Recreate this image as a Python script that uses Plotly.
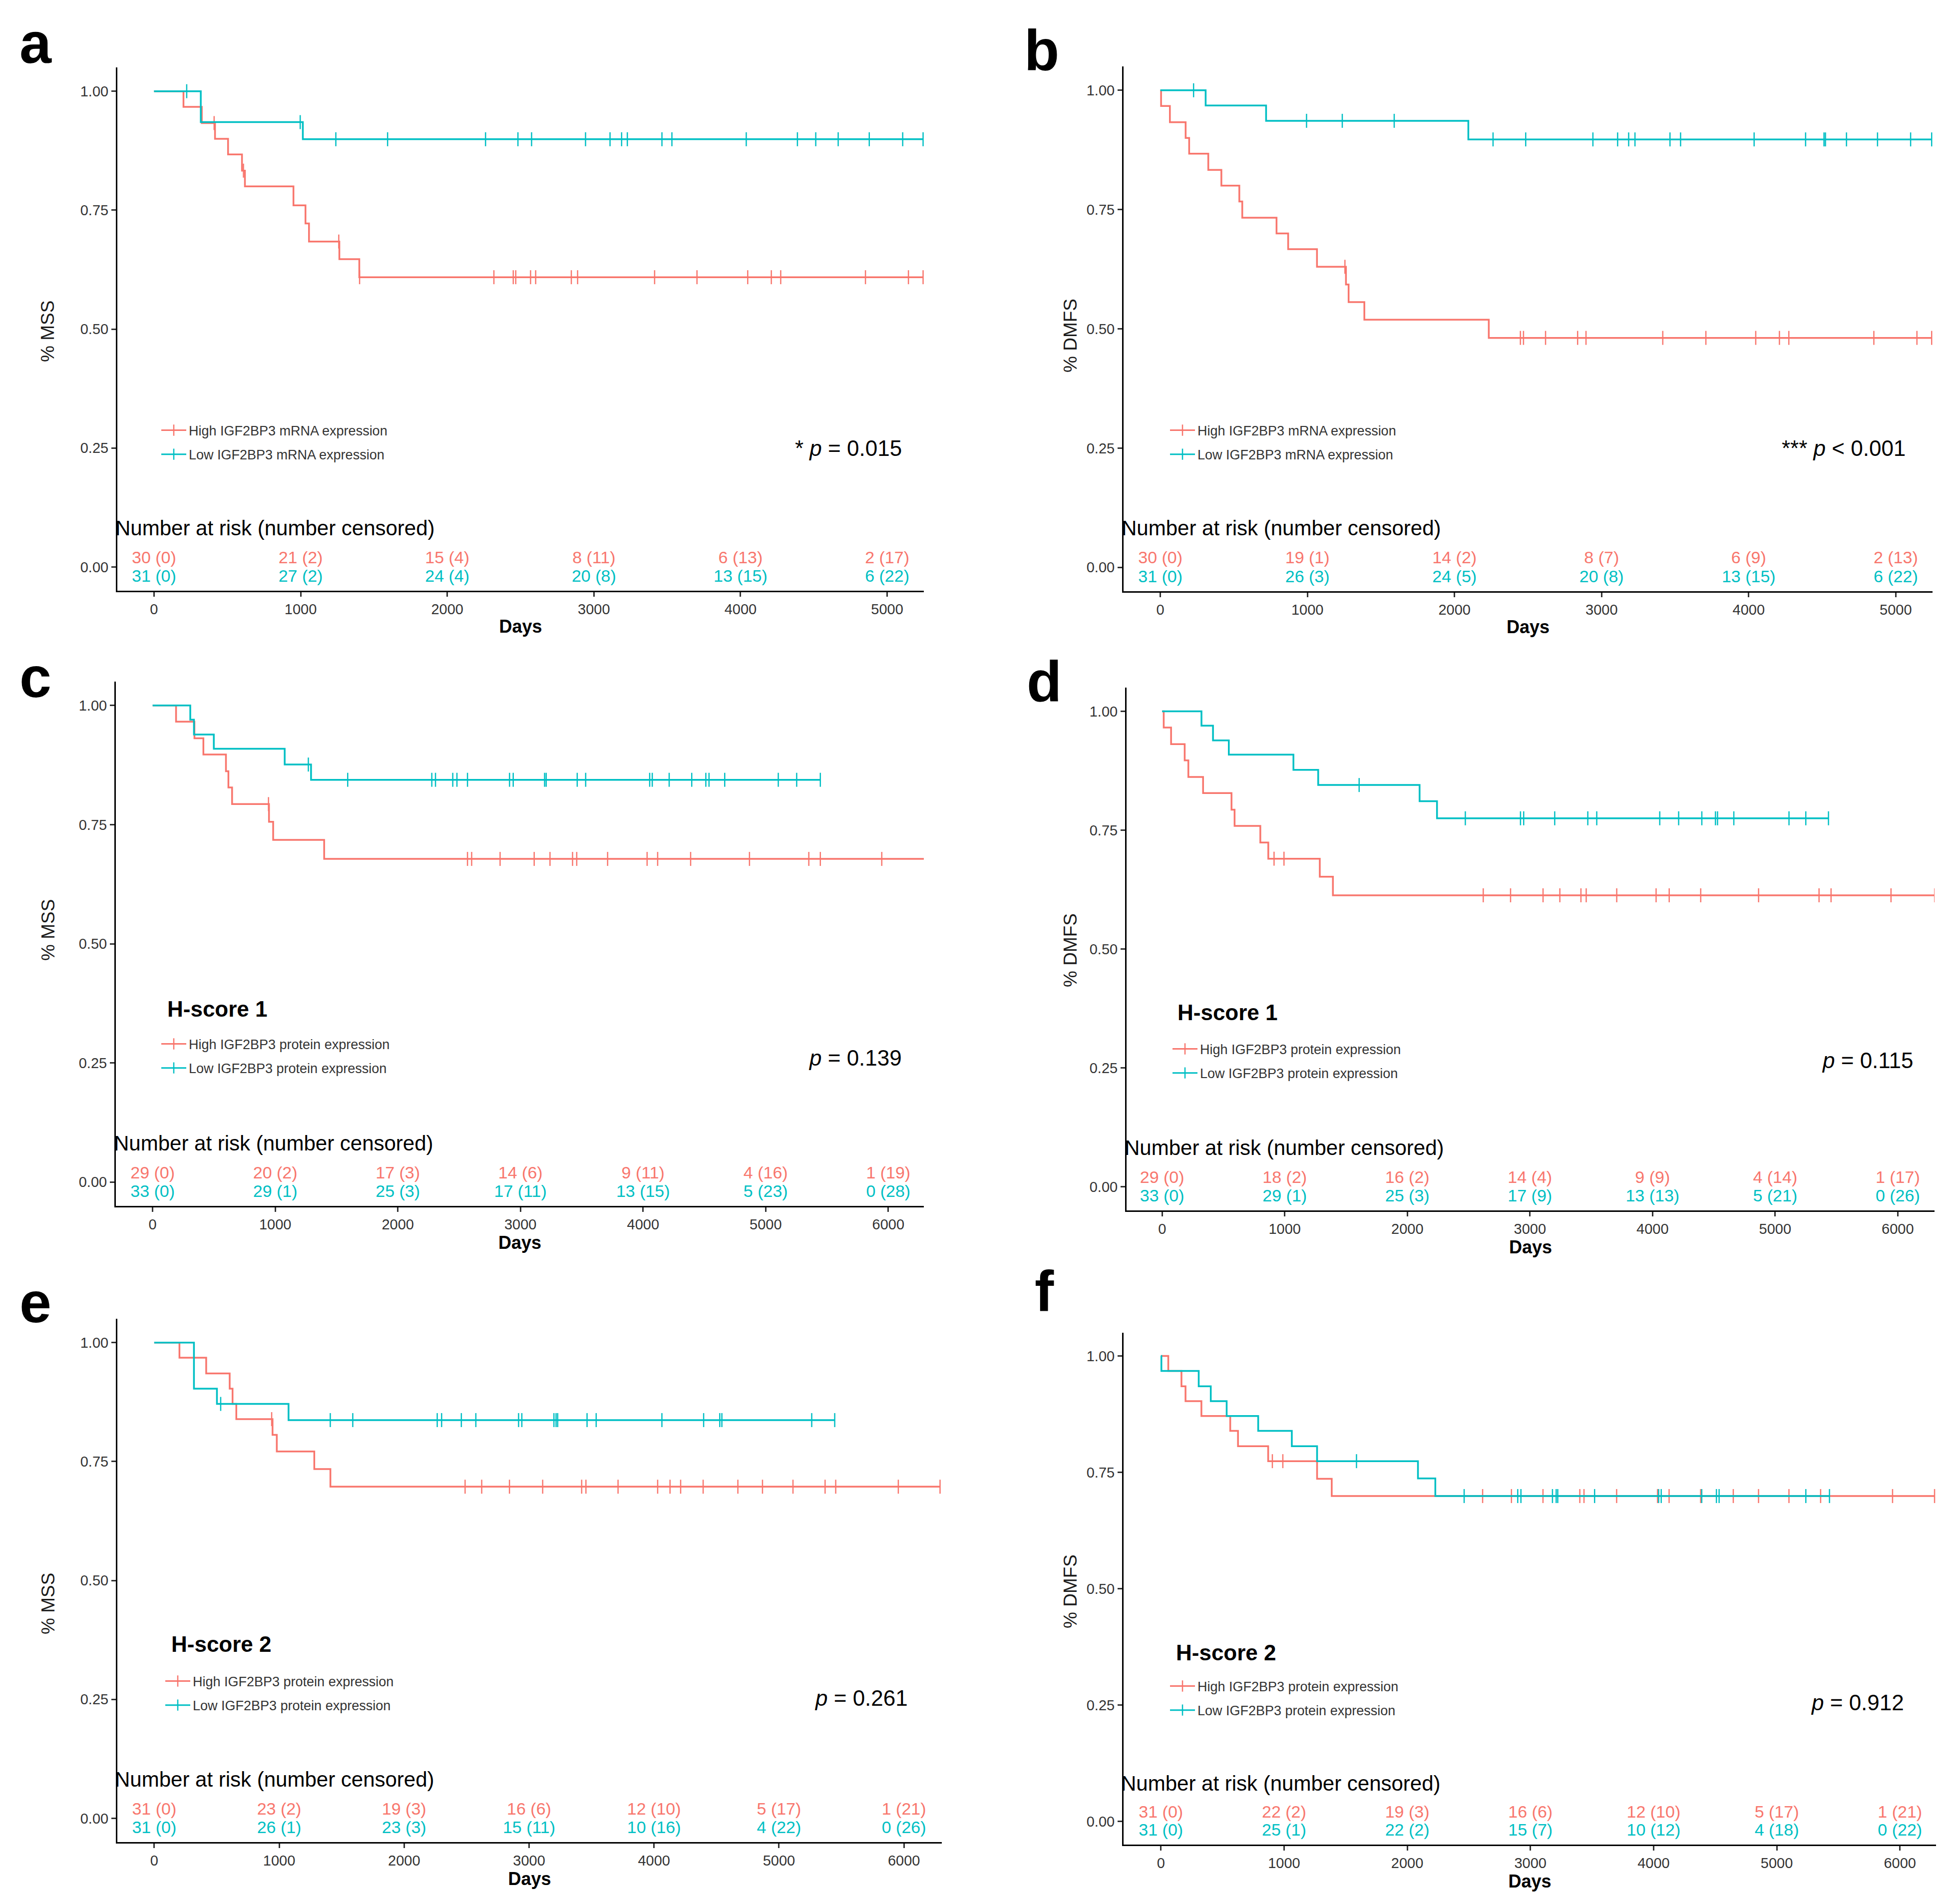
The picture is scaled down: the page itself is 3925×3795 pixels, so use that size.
import numpy as np
import plotly.graph_objects as go

RED = '#F8766D'
TEAL = '#00BFC4'
FONT = 'Liberation Sans, Arial, sans-serif'

# ---------------- data ----------------
# step points (time in days, survival after the step), censor times

# a : MSS, mRNA
a_high_t = [0, 201, 326, 416, 505, 600, 620, 951, 1033, 1057, 1264, 1400, 5245]
a_high_s = [1.0, 0.967, 0.933, 0.900, 0.867, 0.833, 0.800, 0.760, 0.722, 0.684, 0.647, 0.609, 0.609]
a_high_cens = [410, 610, 1260, 1402, 2318, 2450, 2467, 2568, 2603, 2846, 2889, 3414, 3703,
               4049, 4210, 4274, 4852, 5145, 5245]
a_low_t = [0, 319, 1015, 5245]
a_low_s = [1.0, 0.935, 0.899, 0.899]
a_low_cens = [223, 997, 1240, 1593, 2261, 2482, 2575, 2943, 3110, 3189, 3228, 3464, 3532,
              4039, 4388, 4513, 4666, 4878, 5106, 5245]

# b : DMFS, mRNA
b_high_t = [0, 5, 65, 172, 196, 326, 415, 537, 557, 790, 869, 1065, 1262, 1280, 1387, 2233, 5244]
b_high_s = [1.0, 0.967, 0.933, 0.900, 0.867, 0.833, 0.800, 0.767, 0.733, 0.700, 0.667,
            0.630, 0.593, 0.556, 0.519, 0.481, 0.481]
b_high_cens = [1255, 2448, 2469, 2619, 2837, 2894, 3416, 3709, 4048, 4209, 4273, 4851, 5144, 5244]
b_low_t = [0, 308, 719, 2094, 5244]
b_low_s = [1.0, 0.968, 0.936, 0.897, 0.897]
b_low_cens = [226, 994, 1237, 1590, 2262, 2484, 2941, 3109, 3184, 3227, 3465, 3537, 4037,
              4387, 4512, 4522, 4665, 4876, 5101, 5244]

# c : MSS, H-score 1
c_high_t = [0, 191, 341, 414, 598, 618, 648, 949, 983, 1399, 6302]
c_high_s = [1.0, 0.966, 0.931, 0.897, 0.862, 0.828, 0.793, 0.756, 0.718, 0.678, 0.678]
c_high_cens = [945, 2568, 2602, 2834, 3112, 3241, 3425, 3459, 3711, 4033, 4119, 4388, 4868,
               5352, 5446, 5947, 6302]
c_low_t = [0, 307, 337, 499, 1077, 1292, 5446]
c_low_s = [1.0, 0.970, 0.939, 0.909, 0.876, 0.844, 0.844]
c_low_cens = [1270, 1591, 2277, 2307, 2448, 2482, 2568, 2911, 2941, 3197, 3210, 3463, 3532,
              4054, 4075, 4213, 4397, 4512, 4538, 4666, 5103, 5253, 5446]

# d : DMFS, H-score 1
d_high_t = [0, 13, 73, 184, 214, 334, 566, 591, 801, 866, 1286, 1393, 6301]
d_high_s = [1.0, 0.966, 0.931, 0.897, 0.862, 0.828, 0.793, 0.759, 0.724, 0.690, 0.652, 0.613, 0.613]
d_high_cens = [913, 994, 2619, 2842, 3107, 3244, 3416, 3459, 3708, 4029, 4136, 4393, 4865,
               5358, 5456, 5945, 6301]
d_low_t = [0, 321, 415, 544, 1071, 1273, 2100, 2242, 5435]
d_low_s = [1.0, 0.970, 0.939, 0.909, 0.877, 0.845, 0.811, 0.775, 0.775]
d_low_cens = [1607, 2473, 2923, 2949, 3202, 3472, 3545, 4059, 4213, 4402, 4513, 4530, 4663,
              5113, 5250, 5435]

# e : MSS, H-score 2
e_high_t = [0, 202, 416, 604, 627, 657, 947, 981, 1281, 1410, 6289]
e_high_s = [1.0, 0.968, 0.935, 0.903, 0.871, 0.839, 0.806, 0.771, 0.734, 0.697, 0.697]
e_high_cens = [940, 2488, 2621, 2843, 3109, 3421, 3455, 3712, 4029, 4128, 4213, 4393, 4671,
               4868, 5112, 5369, 5454, 5955, 6289]
e_low_t = [0, 318, 502, 1075, 5446]
e_low_s = [1.0, 0.903, 0.871, 0.837, 0.837]
e_low_cens = [532, 1409, 1589, 2265, 2300, 2458, 2574, 2916, 2942, 3199, 3216, 3229, 3464,
              3537, 4063, 4397, 4526, 4543, 5262, 5446]

# f : DMFS, H-score 2
f_high_t = [0, 60, 167, 200, 329, 563, 626, 871, 1268, 1387, 6281]
f_high_s = [1.0, 0.968, 0.935, 0.903, 0.871, 0.839, 0.806, 0.774, 0.736, 0.699, 0.699]
f_high_cens = [905, 990, 2612, 2846, 3102, 3401, 3435, 3700, 4032, 4126, 4382, 4647, 4852,
               5099, 5356, 5940, 6281]
f_low_t = [0, 4, 307, 405, 534, 790, 1063, 1268, 2087, 2228, 5428]
f_low_s = [1.0, 0.968, 0.935, 0.903, 0.871, 0.839, 0.806, 0.774, 0.737, 0.699, 0.699]
f_low_cens = [1588, 2462, 2897, 2923, 3179, 3209, 3222, 3521, 4041, 4062, 4391, 4510, 4532,
              5236, 5428]

# number at risk (number censored)
ticks_5k = [0, 1000, 2000, 3000, 4000, 5000]
ticks_6k = [0, 1000, 2000, 3000, 4000, 5000, 6000]
a_risk_high, a_cens_high = [30, 21, 15, 8, 6, 2], [0, 2, 4, 11, 13, 17]
a_risk_low, a_cens_low = [31, 27, 24, 20, 13, 6], [0, 2, 4, 8, 15, 22]
b_risk_high, b_cens_high = [30, 19, 14, 8, 6, 2], [0, 1, 2, 7, 9, 13]
b_risk_low, b_cens_low = [31, 26, 24, 20, 13, 6], [0, 3, 5, 8, 15, 22]
c_risk_high, c_cens_high = [29, 20, 17, 14, 9, 4, 1], [0, 2, 3, 6, 11, 16, 19]
c_risk_low, c_cens_low = [33, 29, 25, 17, 13, 5, 0], [0, 1, 3, 11, 15, 23, 28]
d_risk_high, d_cens_high = [29, 18, 16, 14, 9, 4, 1], [0, 2, 2, 4, 9, 14, 17]
d_risk_low, d_cens_low = [33, 29, 25, 17, 13, 5, 0], [0, 1, 3, 9, 13, 21, 26]
e_risk_high, e_cens_high = [31, 23, 19, 16, 12, 5, 1], [0, 2, 3, 6, 10, 17, 21]
e_risk_low, e_cens_low = [31, 26, 23, 15, 10, 4, 0], [0, 1, 3, 11, 16, 22, 26]
f_risk_high, f_cens_high = [31, 22, 19, 16, 12, 5, 1], [0, 2, 3, 6, 10, 17, 21]
f_risk_low, f_cens_low = [31, 25, 22, 15, 10, 4, 0], [0, 1, 2, 7, 12, 18, 22]

p_texts = ['* <i>p</i> = 0.015', '*** <i>p</i> &lt; 0.001', '<i>p</i> = 0.139',
           '<i>p</i> = 0.115', '<i>p</i> = 0.261', '<i>p</i> = 0.912']
y_titles = ['% MSS', '% DMFS', '% MSS', '% DMFS', '% MSS', '% DMFS']
hscores = [None, None, 'H-score 1', 'H-score 1', 'H-score 2', 'H-score 2']
mrna_names = ['High IGF2BP3 mRNA expression', 'Low IGF2BP3 mRNA expression']
prot_names = ['High IGF2BP3 protein expression', 'Low IGF2BP3 protein expression']

# ---------------- layout helpers ----------------
W, H = 3925, 3795
def px(x): return x / W
def py(y): return 1 - y / H

panels = [
    dict(lab='a', high=(a_high_t, a_high_s, a_high_cens), low=(a_low_t, a_low_s, a_low_cens),
         ticks=ticks_5k, risk=(a_risk_high, a_cens_high, a_risk_low, a_cens_low), names=mrna_names,
         xd=[227, 1842], yd=[127, 1175], xr=[-250, 5250], letter=(63, 78), ytit=(88, 656),
         p=(1800, 889), hs=None, leg=(310, 878)),
    dict(lab='b', high=(b_high_t, b_high_s, b_high_cens), low=(b_low_t, b_low_s, b_low_cens),
         ticks=ticks_5k, risk=(b_risk_high, b_cens_high, b_risk_low, b_cens_low), names=mrna_names,
         xd=[2242, 3862], yd=[125, 1176], xr=[-250, 5250], letter=(2078, 93), ytit=(2135, 664),
         p=(3810, 889), hs=None, leg=(2330, 878)),
    dict(lab='c', high=(c_high_t, c_high_s, c_high_cens), low=(c_low_t, c_low_s, c_low_cens),
         ticks=ticks_6k, risk=(c_risk_high, c_cens_high, c_risk_low, c_cens_low), names=prot_names,
         xd=[224, 1842], yd=[1357, 2407], xr=[-300, 6290], letter=(63, 1348), ytit=(88, 1855),
         p=(1800, 2110), hs=(325, 2012), leg=(310, 2107)),
    dict(lab='d', high=(d_high_t, d_high_s, d_high_cens), low=(d_low_t, d_low_s, d_low_cens),
         ticks=ticks_6k, risk=(d_risk_high, d_cens_high, d_risk_low, d_cens_low), names=prot_names,
         xd=[2248, 3866], yd=[1369, 2416], xr=[-290, 6300], letter=(2083, 1357), ytit=(2135, 1895),
         p=(3825, 2115), hs=(2348, 2020), leg=(2335, 2117)),
    dict(lab='e', high=(e_high_t, e_high_s, e_high_cens), low=(e_low_t, e_low_s, e_low_cens),
         ticks=ticks_6k, risk=(e_risk_high, e_cens_high, e_risk_low, e_cens_low), names=prot_names,
         xd=[227, 1878], yd=[2633, 3681], xr=[-295, 6303], letter=(63, 2600), ytit=(88, 3204),
         p=(1812, 3392), hs=(333, 3284), leg=(318, 3383)),
    dict(lab='f', high=(f_high_t, f_high_s, f_high_cens), low=(f_low_t, f_low_s, f_low_cens),
         ticks=ticks_6k, risk=(f_risk_high, f_cens_high, f_risk_low, f_cens_low), names=prot_names,
         xd=[2242, 3869], yd=[2661, 3686], xr=[-303, 6293], letter=(2083, 2578), ytit=(2135, 3179),
         p=(3807, 3401), hs=(2345, 3301), leg=(2330, 3393)),
]


def surv_at(t, s, x):
    idx = np.searchsorted(np.array(t), np.array(x), side='right') - 1
    return np.array(s)[idx]


fig = go.Figure()
annotations = []
layout = {}

for i, p in enumerate(panels, start=1):
    sfx = '' if i == 1 else str(i)
    xa, ya = 'x' + sfx, 'y' + sfx
    leg = 'legend' + sfx

    for (t, s, cens), col in ((p['high'], RED), (p['low'], TEAL)):
        fig.add_trace(go.Scatter(x=t, y=s, mode='lines', xaxis=xa, yaxis=ya,
                                 line=dict(color=col, width=3.5, shape='hv'),
                                 showlegend=False, hoverinfo='skip'))
        fig.add_trace(go.Scatter(x=cens, y=surv_at(t, s, cens), mode='markers',
                                 xaxis=xa, yaxis=ya, showlegend=False,
                                 marker=dict(symbol='line-ns-open', color=col, size=20,
                                             line=dict(width=2.5))))

    rh, ch, rl, cl = p['risk']
    fig.add_trace(go.Scatter(x=p['ticks'], y=[0.017] * len(rh), mode='text', xaxis=xa, yaxis=ya,
                             text=[f'{n} ({c})' for n, c in zip(rh, ch)], showlegend=False,
                             textfont=dict(family=FONT, size=34, color=RED)))
    fig.add_trace(go.Scatter(x=p['ticks'], y=[-0.022] * len(rl), mode='text', xaxis=xa, yaxis=ya,
                             text=[f'{n} ({c})' for n, c in zip(rl, cl)], showlegend=False,
                             textfont=dict(family=FONT, size=34, color=TEAL)))

    # legend entries
    for name, col, grp in ((p['names'][0], RED, 'h'), (p['names'][1], TEAL, 'l')):
        fig.add_trace(go.Scatter(x=[None], y=[None], mode='lines+markers', name=name,
                                 xaxis=xa, yaxis=ya, legend=leg, legendgroup=grp + sfx,
                                 line=dict(color=col, width=3),
                                 marker=dict(symbol='line-ns-open', color=col, size=16,
                                             line=dict(width=2.5))))

    layout['xaxis' + sfx] = dict(
        domain=[px(p['xd'][0]), px(p['xd'][1])], range=p['xr'], anchor=ya,
        showline=True, linecolor='black', linewidth=3, mirror=False,
        ticks='outside', ticklen=9, tickwidth=2.5, tickcolor='#333',
        tickvals=p['ticks'], tickfont=dict(family=FONT, size=29, color='#333'),
        showgrid=False, zeroline=False,
        title=dict(text='<b>Days</b>', font=dict(family=FONT, size=36, color='black'), standoff=8))
    layout['yaxis' + sfx] = dict(
        domain=[py(p['yd'][1]), py(p['yd'][0])], range=[-0.05, 1.05], anchor=xa,
        showline=True, linecolor='black', linewidth=3,
        ticks='outside', ticklen=9, tickwidth=2.5, tickcolor='#333',
        tickvals=[0, 0.25, 0.5, 0.75, 1.0], ticktext=['0.00', '0.25', '0.50', '0.75', '1.00'],
        tickfont=dict(family=FONT, size=29, color='#333'), showgrid=False, zeroline=False)
    layout[leg] = dict(x=px(p['leg'][0]), y=py(p['leg'][1]), xanchor='left', yanchor='middle',
                       bgcolor='rgba(0,0,0,0)', font=dict(family=FONT, size=27, color='#333'),
                       tracegroupgap=10, itemwidth=50)

    annotations.append(dict(text='<b>%s</b>' % p['lab'], x=px(p['letter'][0]), y=py(p['letter'][1]),
                            xref='paper', yref='paper', xanchor='center', yanchor='middle',
                            showarrow=False, font=dict(family=FONT, size=115, color='black')))
    annotations.append(dict(text=y_titles[i - 1], x=px(p['ytit'][0]), y=py(p['ytit'][1]),
                            xref='paper', yref='paper', xanchor='center', yanchor='middle',
                            showarrow=False, textangle=-90,
                            font=dict(family=FONT, size=37, color='#1a1a1a')))
    annotations.append(dict(text=p_texts[i - 1], x=px(p['p'][0]), y=py(p['p'][1]),
                            xref='paper', yref='paper', xanchor='right', yanchor='middle',
                            showarrow=False, font=dict(family=FONT, size=44, color='black')))
    annotations.append(dict(text='Number at risk (number censored)', x=-0.004, y=0.082,
                            xref=xa + ' domain', yref=ya, xanchor='left', yanchor='middle',
                            showarrow=False, font=dict(family=FONT, size=42, color='black')))
    if hscores[i - 1]:
        annotations.append(dict(text='<b>%s</b>' % hscores[i - 1], x=px(p['hs'][0]), y=py(p['hs'][1]),
                                xref='paper', yref='paper', xanchor='left', yanchor='middle',
                                showarrow=False, font=dict(family=FONT, size=44, color='black')))

fig.update_layout(**layout)
fig.update_layout(width=W, height=H, margin=dict(l=0, r=0, t=0, b=0),
                  plot_bgcolor='white', paper_bgcolor='white',
                  annotations=annotations, font=dict(family=FONT))

fig.write_html('out.html')
